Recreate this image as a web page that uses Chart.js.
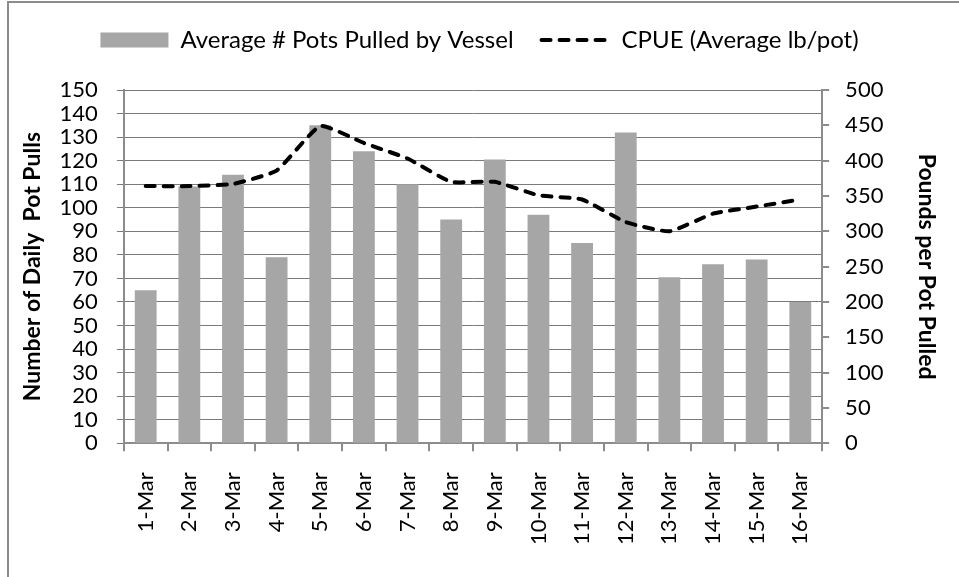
<!DOCTYPE html>
<html>
<head>
<meta charset="utf-8">
<script src="https://cdn.jsdelivr.net/npm/chart.js@4.4.0/dist/chart.umd.min.js"></script>
<style>
  html, body { margin: 0; padding: 0; background: #fff; }
  #wrap { position: relative; width: 959px; height: 577px; overflow: hidden; }
  #frame { position: absolute; left: 7px; top: 1px; width: 1000px; height: 700px;
           border-left: 2px solid #8c8c8c; border-top: 2px solid #8c8c8c; }
  #chart { position: absolute; left: 0; top: 0; }
</style>
</head>
<body>
<div id="wrap">
  <div id="frame"></div>
  <canvas id="chart" width="959" height="577"></canvas>
</div>
<script>
// categories and series
const days = ['1-Mar', '2-Mar', '3-Mar', '4-Mar', '5-Mar', '6-Mar', '7-Mar', '8-Mar',
              '9-Mar', '10-Mar', '11-Mar', '12-Mar', '13-Mar', '14-Mar', '15-Mar', '16-Mar'];
const potsPulled = [65, 109, 114, 79, 135, 124, 110, 95, 120.5, 97, 85, 132, 70.5, 76, 78, 60];
const cpue = [364, 364, 367, 386, 449, 425, 403, 370, 370, 351, 345, 313, 300, 325, 335, 345];

const barLabel = 'Average # Pots Pulled by Vessel';
const lineLabel = 'CPUE (Average lb/pot)';
const leftTitle = 'Number of Daily  Pot Pulls';
const rightTitle = 'Pounds per Pot Pulled';

const FONT = 'Lato, "Open Sans", sans-serif';
const gridColor = '#7a7a7a';
const axisColor = '#8c8c8c';
const barColor = '#a6a6a6';

const ctx = document.getElementById('chart').getContext('2d');
const chart = new Chart(ctx, {
  type: 'bar',
  data: {
    labels: days,
    datasets: [{
      type: 'line',
      label: lineLabel,
      data: cpue,
      yAxisID: 'y1',
      borderColor: '#000',
      borderWidth: 4,
      borderDash: [9, 9],
      borderCapStyle: 'round',
      pointRadius: 0,
      tension: 0.15,
      fill: false,
      order: 0
    }, {
      type: 'bar',
      label: barLabel,
      data: potsPulled,
      yAxisID: 'y',
      backgroundColor: barColor,
      borderWidth: 0,
      barPercentage: 0.5,
      categoryPercentage: 1.0,
      order: 1
    }]
  },
  options: {
    responsive: false,
    animation: false,
    layout: { padding: { left: 0, right: 0, top: 0, bottom: 11 } },
    plugins: {
      tooltip: { enabled: false },
      legend: {
        position: 'top',
        weight: 3000,
        labels: {
          color: '#000',
          font: { family: FONT, size: 24 },
          usePointStyle: true,
          pointStyleWidth: 68,
          boxHeight: 15,
          padding: 28,
          generateLabels: () => [
            { text: barLabel, fillStyle: barColor, strokeStyle: barColor, lineWidth: 0,
              pointStyle: 'rect', datasetIndex: 1, fontColor: '#000' },
            { text: lineLabel, fillStyle: '#000', strokeStyle: '#000', lineWidth: 4,
              lineDash: [9, 9], lineCap: 'round', pointStyle: 'line', datasetIndex: 0, fontColor: '#000' }
          ]
        }
      },
      // empty subtitle used as a gap between the legend and the plot
      subtitle: { display: true, text: '', font: { size: 10 }, padding: { top: 16, bottom: 0 } }
    },
    scales: {
      x: {
        offset: true,
        grid: { drawOnChartArea: false, offset: true, tickLength: 8, color: axisColor, lineWidth: 2 },
        border: { color: axisColor, width: 2 },
        ticks: { color: '#000', font: { family: FONT, size: 22 }, maxRotation: 90, minRotation: 90, padding: 21 }
      },
      y: {
        type: 'linear',
        position: 'left',
        min: 0, max: 150,
        ticks: { stepSize: 10, autoSkip: false, color: '#000', font: { family: FONT, size: 22 }, padding: 19 },
        grid: { color: gridColor, lineWidth: 1, tickLength: 7 },
        border: { color: axisColor, width: 2 },
        title: { display: true, text: leftTitle, color: '#000',
                 font: { family: FONT, size: 23, weight: 'bold' }, padding: { top: 19, bottom: -6 } }
      },
      y1: {
        type: 'linear',
        position: 'right',
        min: 0, max: 500,
        ticks: { stepSize: 50, autoSkip: false, color: '#000', font: { family: FONT, size: 22 }, padding: 16 },
        grid: { drawOnChartArea: false, color: axisColor, lineWidth: 2, tickLength: 7 },
        border: { color: axisColor, width: 2 },
        title: { display: true, text: rightTitle, color: '#000',
                 font: { family: FONT, size: 23, weight: 'bold' }, padding: { top: 19, bottom: 13 } }
      }
    }
  }
});
</script>
</body>
</html>
